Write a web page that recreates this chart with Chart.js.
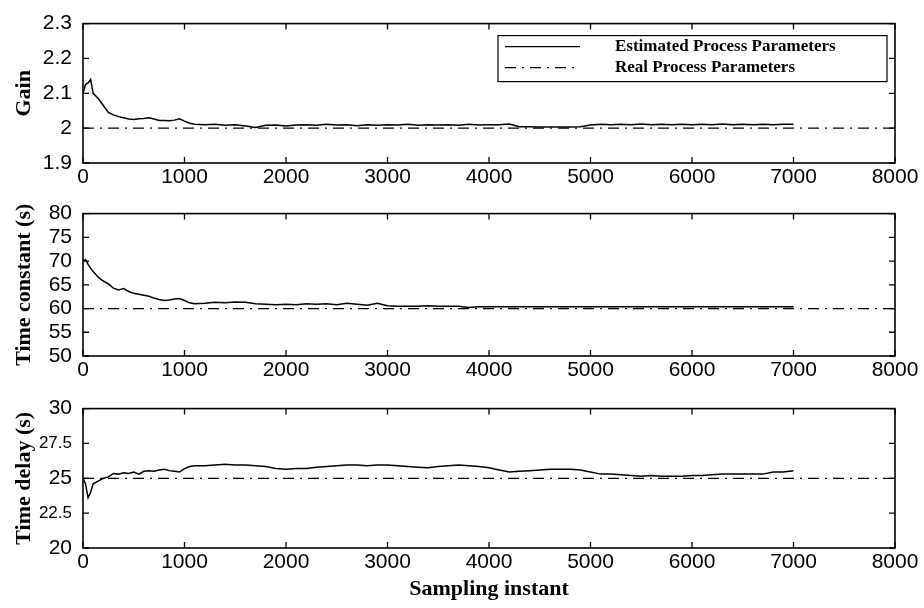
<!DOCTYPE html>
<html>
<head>
<meta charset="utf-8">
<script src="https://cdn.jsdelivr.net/npm/chart.js@4"></script>
<style>
  body { margin: 0; background: #fff; }
  #wrap { position: relative; width: 924px; height: 608px; }
  #wrap canvas { position: absolute; left: 0; }
</style>
</head>
<body>
<div id="wrap">
  <canvas id="gainChart" width="924" height="190" style="top:0px"></canvas>
  <canvas id="tauChart" width="924" height="195" style="top:190px"></canvas>
  <canvas id="delayChart" width="924" height="223" style="top:385px"></canvas>
</div>
<script>
// sampling instants at which the estimates are plotted
const sampleX = [0, 25, 50, 75, 100, 150, 200, 250, 300, 350, 400, 450, 500, 550, 600, 650, 700, 750, 800, 850, 900, 950, 1000, 1050, 1100,
  1200, 1300, 1400, 1500, 1600, 1700, 1800, 1900, 2000,
  2100, 2200, 2300, 2400, 2500, 2600, 2700, 2800, 2900, 3000,
  3100, 3200, 3300, 3400, 3500, 3600, 3700, 3800, 3900, 4000,
  4100, 4200, 4300, 4400, 4500, 4600, 4700, 4800, 4900, 5000,
  5100, 5200, 5300, 5400, 5500, 5600, 5700, 5800, 5900, 6000,
  6100, 6200, 6300, 6400, 6500, 6600, 6700, 6800, 6900, 7000];

const gainEst = [2.100, 2.125, 2.130, 2.140, 2.100, 2.085, 2.065, 2.045, 2.038, 2.033, 2.030, 2.026, 2.025, 2.027, 2.028, 2.030, 2.026, 2.022, 2.022, 2.021, 2.023, 2.027, 2.020, 2.014, 2.011,
  2.010, 2.011, 2.008, 2.010, 2.006, 2.002, 2.008, 2.009, 2.006,
  2.009, 2.010, 2.008, 2.011, 2.009, 2.010, 2.007, 2.010, 2.008, 2.010,
  2.009, 2.011, 2.008, 2.010, 2.009, 2.010, 2.008, 2.011, 2.009, 2.010,
  2.010, 2.012, 2.004, 2.004, 2.003, 2.003, 2.003, 2.003, 2.004, 2.009,
  2.011, 2.010, 2.011, 2.010, 2.012, 2.010, 2.011, 2.010, 2.011, 2.010,
  2.011, 2.010, 2.012, 2.010, 2.011, 2.010, 2.011, 2.010, 2.011, 2.011];

const tauEst = [70.0, 70.3, 69.3, 68.5, 67.8, 66.6, 65.8, 65.2, 64.3, 63.9, 64.2, 63.6, 63.2, 63.0, 62.8, 62.6, 62.2, 61.9, 61.7, 61.8, 62.0, 62.1, 61.7, 61.2, 61.0,
  61.1, 61.3, 61.2, 61.4, 61.3, 61.0, 60.9, 60.8, 60.9,
  60.8, 61.0, 60.9, 61.0, 60.8, 61.1, 60.9, 60.7, 61.1, 60.6,
  60.5, 60.5, 60.5, 60.6, 60.5, 60.5, 60.5, 60.2, 60.4, 60.4,
  60.4, 60.4, 60.4, 60.4, 60.4, 60.4, 60.4, 60.4, 60.4, 60.4,
  60.4, 60.4, 60.4, 60.4, 60.4, 60.4, 60.4, 60.4, 60.4, 60.4,
  60.4, 60.4, 60.4, 60.4, 60.4, 60.4, 60.4, 60.4, 60.4, 60.4];

const delayEst = [25.0, 24.6, 23.6, 24.0, 24.6, 24.8, 25.0, 25.1, 25.35, 25.3, 25.4, 25.35, 25.45, 25.3, 25.5, 25.55, 25.5, 25.6, 25.65, 25.55, 25.5, 25.45, 25.7, 25.85, 25.9,
  25.9, 25.95, 26.0, 25.95, 25.95, 25.9, 25.85, 25.7, 25.65,
  25.7, 25.7, 25.8, 25.85, 25.9, 25.95, 25.95, 25.9, 25.95, 25.95,
  25.9, 25.85, 25.8, 25.75, 25.85, 25.9, 25.95, 25.9, 25.85, 25.75,
  25.6, 25.45, 25.5, 25.55, 25.6, 25.65, 25.65, 25.65, 25.6, 25.45,
  25.3, 25.3, 25.25, 25.2, 25.15, 25.2, 25.15, 25.15, 25.15, 25.2,
  25.2, 25.25, 25.3, 25.3, 25.3, 25.3, 25.3, 25.45, 25.45, 25.55];

// true plant parameters (constant)
const realX = [0, 8000];
const gainReal = [2, 2];
const tauReal = [60, 60];
const delayReal = [25, 25];

const seriesNames = ['Estimated Process Parameters', 'Real Process Parameters'];

const tickFont = { family: 'Liberation Sans, Arial, sans-serif', size: 21 };
const smallTickFont = { family: 'Liberation Sans, Arial, sans-serif', size: 17 };
const titleFont = { family: 'Liberation Serif, Times New Roman, serif', size: 22, weight: 'bold' };
const dashDot = [11, 6, 2, 6];

function fmt(v) {
  return String(+(+v).toFixed(3));
}

function pts(xs, ys) {
  return xs.map((x, i) => ({ x: x, y: ys[i] }));
}

// box around the plot area with inward tick marks on all four sides
const framePlugin = {
  id: 'frame',
  afterDraw(chart) {
    const ctx = chart.ctx, a = chart.chartArea;
    const xs = chart.scales.x, ys = chart.scales.y;
    const len = 6;
    ctx.save();
    ctx.strokeStyle = '#000';
    ctx.lineWidth = 1.6;
    ctx.strokeRect(a.left, a.top, a.right - a.left, a.bottom - a.top);
    ctx.lineWidth = 1.3;
    ctx.beginPath();
    xs.ticks.forEach(t => {
      const px = xs.getPixelForValue(t.value);
      ctx.moveTo(px, a.bottom); ctx.lineTo(px, a.bottom - len);
      ctx.moveTo(px, a.top); ctx.lineTo(px, a.top + len);
    });
    ys.ticks.forEach(t => {
      const py = ys.getPixelForValue(t.value);
      ctx.moveTo(a.left, py); ctx.lineTo(a.left + len, py);
      ctx.moveTo(a.right, py); ctx.lineTo(a.right - len, py);
    });
    ctx.stroke();
    ctx.restore();
  }
};

// boxed legend in the upper right of the gain plot
const boxLegend = {
  id: 'boxLegend',
  afterDraw(chart, args, opts) {
    if (!opts.show) return;
    const ctx = chart.ctx, a = chart.chartArea;
    const w = 389, h = 46;
    const left = a.right - 8 - w, top = a.top + 12;
    ctx.save();
    ctx.fillStyle = '#fff';
    ctx.fillRect(left, top, w, h);
    ctx.strokeStyle = '#000';
    ctx.lineWidth = 1.2;
    ctx.strokeRect(left, top, w, h);
    ctx.font = 'bold 17px "Liberation Serif", "Times New Roman", serif';
    ctx.textBaseline = 'middle';
    ctx.fillStyle = '#000';
    chart.data.datasets.forEach((ds, i) => {
      const y = top + 11 + i * 21;
      ctx.beginPath();
      ctx.setLineDash(ds.borderDash || []);
      ctx.lineWidth = 1.3;
      ctx.moveTo(left + 7, y);
      ctx.lineTo(left + 82, y);
      ctx.stroke();
      ctx.setLineDash([]);
      ctx.fillText(ds.label, left + 117, y);
    });
    ctx.restore();
  }
};

function makePanel(id, est, real, yMin, yMax, yStep, yTitle, opt) {
  const c = document.getElementById(id);
  return new Chart(c, {
    type: 'line',
    data: {
      datasets: [
        { label: seriesNames[0], data: pts(sampleX, est), borderColor: '#000', borderWidth: 1.5, pointRadius: 0, tension: 0 },
        { label: seriesNames[1], data: pts(realX, real), borderColor: '#000', borderWidth: 1.3, borderDash: dashDot, pointRadius: 0, tension: 0 }
      ]
    },
    options: {
      responsive: false,
      animation: false,
      devicePixelRatio: 1,
      layout: { padding: { top: opt.top, right: 29, left: 0, bottom: 0 } },
      plugins: {
        legend: { display: false },
        tooltip: { enabled: false },
        boxLegend: { show: !!opt.legend }
      },
      scales: {
        x: {
          type: 'linear',
          min: 0, max: 8000,
          ticks: { stepSize: 1000, autoSkip: false, color: '#000', font: tickFont, padding: 2, maxRotation: 0, callback: fmt },
          grid: { display: false, drawTicks: false },
          border: { display: false },
          title: { display: !!opt.xTitle, text: opt.xTitle || '', color: '#000', font: titleFont, padding: { top: 0, bottom: 5 } },
          afterFit(s) { s.height = opt.xHeight; }
        },
        y: {
          min: yMin, max: yMax,
          ticks: {
            stepSize: yStep, autoSkip: false, color: '#000', padding: 11, callback: fmt,
            // the half-step labels (27.5, 22.5) are set smaller
            font: c => (opt.narrow && c.tick && !Number.isInteger(c.tick.value)) ? smallTickFont : tickFont
          },
          grid: { display: false, drawTicks: false },
          border: { display: false },
          title: { display: true, text: yTitle, color: '#000', font: titleFont, padding: { top: 11, bottom: 0 } },
          afterFit(s) { s.width = 83; }
        }
      }
    },
    plugins: [framePlugin, boxLegend]
  });
}

makePanel('gainChart', gainEst, gainReal, 1.9, 2.3, 0.1, 'Gain', { top: 19, xHeight: 27, legend: true });
makePanel('tauChart', tauEst, tauReal, 50, 80, 5, 'Time constant (s)', { top: 23, xHeight: 29 });
makePanel('delayChart', delayEst, delayReal, 20, 30, 2.5, 'Time delay (s)', { top: 20, xHeight: 60, xTitle: 'Sampling instant', narrow: true });
</script>
</body>
</html>
